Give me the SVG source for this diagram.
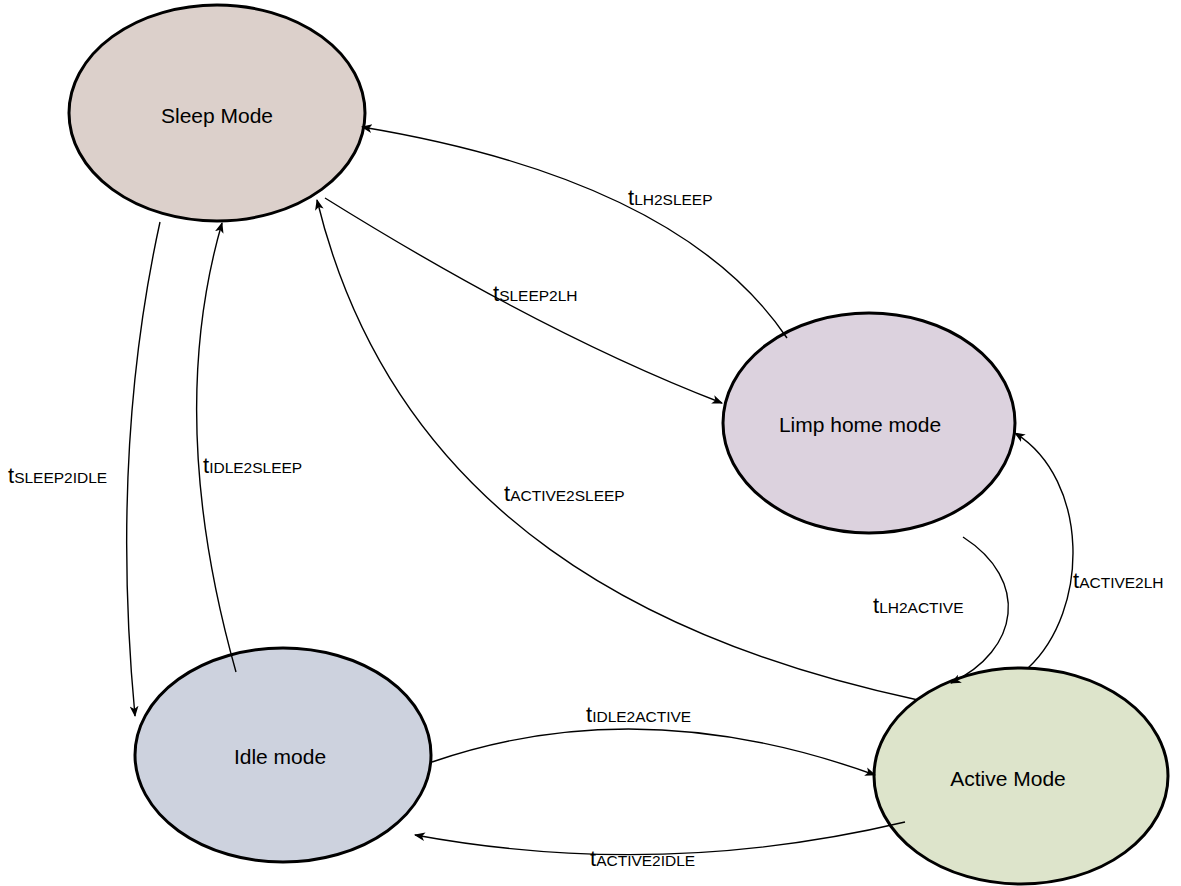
<svg xmlns="http://www.w3.org/2000/svg" width="1181" height="886" viewBox="0 0 1181 886">
<defs>
<marker id="arr" viewBox="0 0 10 10" refX="9" refY="5" markerWidth="11" markerHeight="11" markerUnits="userSpaceOnUse" orient="auto">
<path d="M0,1 L10,5 L0,9 L2.5,5 Z" fill="#000"/>
</marker>
</defs>
<style>
.node{stroke:#000;stroke-width:3}
.nt{font-family:"Liberation Sans",Arial,sans-serif;font-size:21px;fill:#000;text-anchor:middle;dominant-baseline:central}
.conn path{fill:none;stroke:#000;stroke-width:1.4;marker-end:url(#arr)}
.lbl{font-family:"Liberation Sans",Arial,sans-serif;font-size:15.5px;fill:#000}
.big{font-size:22px}
</style>
<rect width="1181" height="886" fill="#fff"/>
<g id="sleep">
<ellipse class="node" cx="217" cy="113" rx="148" ry="108" fill="#dcd0cb"/>
<text class="nt" x="217" y="115">Sleep Mode</text>
</g>
<g id="limphome">
<ellipse class="node" cx="869" cy="423" rx="146" ry="110" fill="#dcd2de"/>
<text class="nt" x="860" y="424">Limp home mode</text>
</g>
<g id="idle">
<ellipse class="node" cx="283" cy="755" rx="148" ry="107" fill="#cdd2de"/>
<text class="nt" x="280" y="756">Idle mode</text>
</g>
<g id="active">
<ellipse class="node" cx="1021" cy="776" rx="147" ry="108" fill="#dde4cb"/>
<text class="nt" x="1008" y="778">Active Mode</text>
</g>
<g id="connectors" class="conn">
<path d="M787,338 Q680,180 362,127"/>
<path d="M325,198 Q545,335 722,403"/>
<path d="M160,222 Q110,450 135,716"/>
<path d="M236,672 Q165,420 222,223"/>
<path d="M918,700 C660,645 395,520 317,200"/>
<path d="M963,537 C1030,580 1020,650 951,683"/>
<path d="M1028,668 C1090,610 1090,480 1015,433"/>
<path d="M432,762 Q640,690 875,775"/>
<path d="M905,822 Q660,880 415,835"/>
</g>
<g id="labels">
<text class="lbl" x="628" y="205"><tspan class="big">t</tspan>LH2SLEEP</text>
<text class="lbl" x="493" y="301"><tspan class="big">t</tspan>SLEEP2LH</text>
<text class="lbl" x="8" y="483"><tspan class="big">t</tspan>SLEEP2IDLE</text>
<text class="lbl" x="203" y="473"><tspan class="big">t</tspan>IDLE2SLEEP</text>
<text class="lbl" x="504" y="501"><tspan class="big">t</tspan>ACTIVE2SLEEP</text>
<text class="lbl" x="873" y="613"><tspan class="big">t</tspan>LH2ACTIVE</text>
<text class="lbl" x="1073" y="588"><tspan class="big">t</tspan>ACTIVE2LH</text>
<text class="lbl" x="586" y="722"><tspan class="big">t</tspan>IDLE2ACTIVE</text>
<text class="lbl" x="590" y="866"><tspan class="big">t</tspan>ACTIVE2IDLE</text>
</g>
</svg>
